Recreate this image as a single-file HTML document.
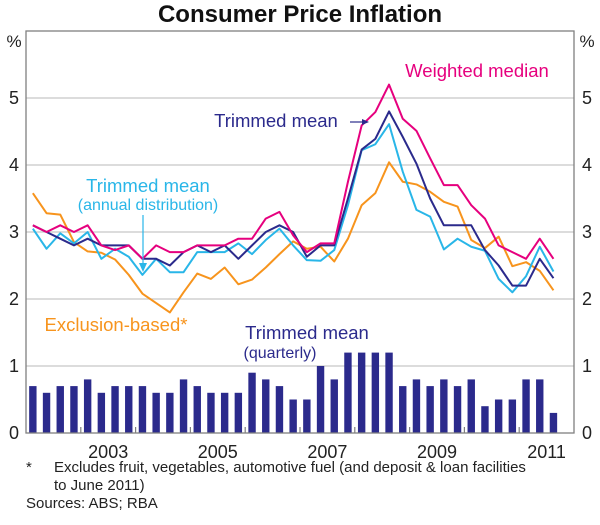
<!DOCTYPE html>
<html><head><meta charset="utf-8"><style>
body{margin:0;background:#fff;width:600px;height:520px;overflow:hidden}
svg text{font-family:"Liberation Sans",Arial,sans-serif}
</style></head><body>
<svg id="chart" width="600" height="520" xmlns="http://www.w3.org/2000/svg">
<text x="300" y="22" text-anchor="middle" font-size="24" font-weight="bold" fill="#111">Consumer Price Inflation</text>
<text x="14" y="47" text-anchor="middle" font-size="17" fill="#222">%</text>
<text x="587" y="47" text-anchor="middle" font-size="17" fill="#222">%</text>
<g id="grid"></g><g id="bars"></g><g id="lines"></g><g id="axes"></g>
<text x="477" y="77" text-anchor="middle" font-size="18.5" fill="#e6007e">Weighted median</text>
<text x="276" y="127" text-anchor="middle" font-size="18.5" fill="#2b2a8c">Trimmed mean</text>
<line x1="350" y1="122" x2="362" y2="122" stroke="#2b2a8c" stroke-width="1.2"/>
<path d="M362,119 L369,122 L362,125Z" fill="#2b2a8c"/>
<text x="148" y="192" text-anchor="middle" font-size="18.5" fill="#29b6e8">Trimmed mean</text>
<text x="148" y="210" text-anchor="middle" font-size="16" fill="#29b6e8">(annual distribution)</text>
<line x1="143" y1="215" x2="143" y2="265" stroke="#29b6e8" stroke-width="1.2"/>
<path d="M139,263 L143,272 L147,263Z" fill="#29b6e8"/>
<text x="116" y="331" text-anchor="middle" font-size="18.5" fill="#f7941d">Exclusion-based*</text>
<text x="307" y="339" text-anchor="middle" font-size="18.5" fill="#2b2a8c">Trimmed mean</text>
<text x="280" y="358" text-anchor="middle" font-size="16" fill="#2b2a8c">(quarterly)</text>
<text x="26" y="472" font-size="15" fill="#222">*</text>
<text x="54" y="472" font-size="15" fill="#222">Excludes fruit, vegetables, automotive fuel (and deposit &amp; loan facilities</text>
<text x="54" y="490" font-size="15" fill="#222">to June 2011)</text>
<text x="26" y="508" font-size="15" fill="#222">Sources: ABS; RBA</text>
</svg>
<script>
const quarterlyBars=[0.7,0.6,0.7,0.7,0.8,0.6,0.7,0.7,0.7,0.6,0.6,0.8,0.7,0.6,0.6,0.6,0.9,0.8,0.7,0.5,0.5,1.0,0.8,1.2,1.2,1.2,1.2,0.7,0.8,0.7,0.8,0.7,0.8,0.4,0.5,0.5,0.8,0.8,0.3];
const weightedMedian=[3.1,3.0,3.1,3.0,3.1,2.8,2.73,2.8,2.6,2.8,2.7,2.7,2.8,2.8,2.8,2.9,2.9,3.2,3.3,2.95,2.7,2.83,2.83,3.75,4.59,4.79,5.2,4.69,4.51,4.1,3.7,3.7,3.4,3.2,2.8,2.7,2.6,2.9,2.6];
const trimmedMean=[3.1,3.0,2.9,2.8,2.9,2.8,2.8,2.8,2.6,2.6,2.5,2.7,2.8,2.7,2.8,2.6,2.8,3.0,3.1,3.0,2.63,2.8,2.8,3.5,4.23,4.39,4.8,4.42,4.02,3.5,3.1,3.1,3.1,2.73,2.5,2.2,2.2,2.6,2.31];
const trimmedAnnual=[3.05,2.75,2.98,2.83,3.0,2.6,2.75,2.63,2.36,2.6,2.4,2.4,2.7,2.7,2.7,2.83,2.67,2.88,3.05,2.8,2.58,2.57,2.73,3.4,4.22,4.31,4.61,3.9,3.33,3.23,2.74,2.9,2.78,2.72,2.3,2.1,2.34,2.78,2.41];
const exclusionBased=[3.58,3.28,3.26,2.85,2.71,2.69,2.59,2.36,2.08,1.94,1.8,2.1,2.38,2.3,2.47,2.22,2.29,2.47,2.67,2.86,2.75,2.78,2.56,2.9,3.4,3.58,4.04,3.75,3.71,3.6,3.45,3.38,2.88,2.76,2.93,2.49,2.55,2.42,2.13];
const yTicks=[0,1,2,3,4,5];
const xLabels=["2003","2005","2007","2009","2011"];
const xLabelYears=[2003,2005,2007,2009,2011];
const startYear=2002, endYear=2012;

const NS="http://www.w3.org/2000/svg";
const L=26,R=574,T=31,B=433,yMax=6;
const xYear=y=>L+(y-startYear)/(endYear-startYear)*(R-L);
const qw=(R-L)/((endYear-startYear)*4);
const xQ=i=>L+(i+0.5)*qw;
const yV=v=>B-v/yMax*(B-T);
function mk(tag,attrs,parent){const e=document.createElementNS(NS,tag);for(const k in attrs)e.setAttribute(k,attrs[k]);parent.appendChild(e);return e;}
const grid=document.getElementById('grid'),bars=document.getElementById('bars'),lines=document.getElementById('lines'),axes=document.getElementById('axes');
yTicks.forEach(v=>{
  if(v>0){const g=mk('line',{x1:L,x2:R,y1:yV(v),y2:yV(v),stroke:'#c8c8c8','stroke-width':1.2},grid);
  
  }
  const t1=mk('text',{x:14,y:yV(v)+6,'text-anchor':'middle','font-size':18,fill:'#222'},axes);t1.textContent=v;
  
  
  const t2=mk('text',{x:587,y:yV(v)+6,'text-anchor':'middle','font-size':18,fill:'#222'},axes);t2.textContent=v;
  
  
});
quarterlyBars.forEach((v,i)=>{
  const b=mk('rect',{x:xQ(i)-3.7,y:yV(v),width:7.4,height:B-yV(v),fill:'#2b2a8c'},bars);
  
  
});
function series(arr,color,name){
  const p=mk('polyline',{points:arr.map((v,i)=>xQ(i)+','+yV(v)).join(' '),fill:'none',stroke:color,'stroke-width':2,'stroke-linejoin':'round'},lines);
  
  
}
series(exclusionBased,'#f7941d','exclusion-based-line');
series(trimmedAnnual,'#29b6e8','trimmed-mean-annual-line');
series(trimmedMean,'#2b2a8c','trimmed-mean-line');
series(weightedMedian,'#e6007e','weighted-median-line');
const fr=mk('rect',{x:L,y:T,width:R-L,height:B-T,fill:'none',stroke:'#808080','stroke-width':1.3},axes);


for(let y=startYear+1;y<endYear;y++){
  const tk=mk('line',{x1:xYear(y),x2:xYear(y),y1:B,y2:B-6,stroke:'#808080','stroke-width':1.2},axes);
  
  
}
xLabels.forEach((s,k)=>{
  const t=mk('text',{x:xYear(xLabelYears[k]+0.5),y:458,'text-anchor':'middle','font-size':18,fill:'#222'},axes);t.textContent=s;
  
  
});
</script>
</body></html>
